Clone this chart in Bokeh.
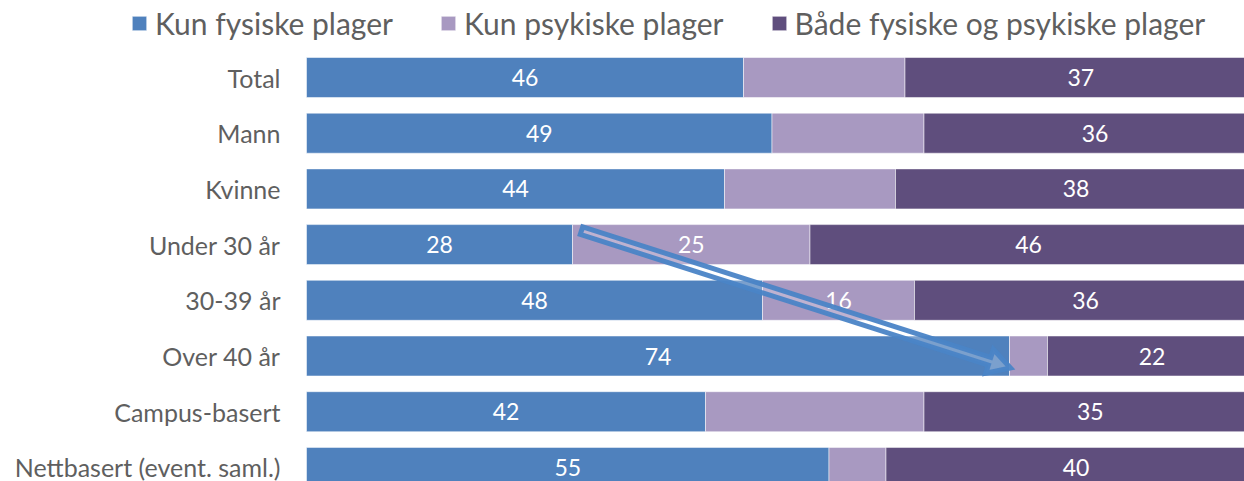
from bokeh.plotting import figure
from bokeh.models import Range1d, ColumnDataSource, Legend, LegendItem
from bokeh.core.properties import value
from bokeh.embed import file_html
from bokeh.resources import INLINE
import math

# ---------------- data ----------------
categories = ["Total", "Mann", "Kvinne", "Under 30 år", "30-39 år",
              "Over 40 år", "Campus-basert", "Nettbasert (event. saml.)"]
series_names = ["Kun fysiske plager", "Kun psykiske plager",
                "Både fysiske og psykiske plager"]
kun_fysiske = [46, 49, 44, 28, 48, 74, 42, 55]
kun_psykiske = [17, 16, 18, 25, 16, 4, 23, 6]
begge = [37, 36, 38, 46, 36, 22, 35, 40]
show_psykiske_label = [False, False, False, True, True, False, False, False]

# ---------------- style / layout ----------------
colors = ["#4F81BD", "#A899C1", "#5F4E7D"]
TEXT_GREY = "#5F5F5F"
FONT = "Lato"
W, H = 1244, 481
PX = 9.5          # pixels per percentage unit
ROW = 55.7        # pixels per category row
ZERO_PX = 306     # x position of value 0 inside figure
FIRST_ROW_PX = 77 # y position of first row centre inside figure

p = figure(width=W, height=H, output_backend="svg", toolbar_location=None,
           x_range=Range1d(-ZERO_PX / PX, (W - ZERO_PX) / PX),
           y_range=Range1d(-(H - FIRST_ROW_PX) / ROW, FIRST_ROW_PX / ROW),
           x_axis_location=None, y_axis_location=None,
           min_border=0, outline_line_color=None)
p.xgrid.visible = False
p.ygrid.visible = False

ys = [-i for i in range(len(categories))]
series = [kun_fysiske, kun_psykiske, begge]
left = [0] * len(categories)
renderers = []
label_x, label_y, label_t = [], [], []
for k, vals in enumerate(series):
    right = [l + v for l, v in zip(left, vals)]
    src = ColumnDataSource(dict(y=ys, left=left, right=right))
    r = p.hbar(y="y", left="left", right="right", height=0.718, source=src,
               fill_color=colors[k], line_color="white", line_alpha=0.5, line_width=1)
    renderers.append(r)
    for i, (l, rr, v) in enumerate(zip(left, right, vals)):
        if k == 1 and not show_psykiske_label[i]:
            continue
        label_x.append((l + rr) / 2)
        label_y.append(ys[i])
        label_t.append(str(v))
    left = right

p.text(x=label_x, y=label_y, text=label_t, text_color="white",
       text_font=value(FONT), text_font_size="23px",
       text_align="center", text_baseline="middle")

# category labels
p.text(x=[0] * len(categories), y=ys, text=categories, x_offset=-26,
       text_color=TEXT_GREY, text_font=value(FONT), text_font_size="25px",
       text_align="right", text_baseline="middle")

# ---------------- arrow annotation (Under 30 -> Over 40) ----------------
tx, ty = kun_fysiske[3] * PX + 9, ys[3] * ROW + 14
hx, hy = kun_fysiske[5] * PX + 1, ys[5] * ROW - 12
dx, dy = hx - tx, hy - ty
L = math.hypot(dx, dy)
ux, uy = dx / L, dy / L
nx, ny = -uy, ux
sw, hw, hl = 4.0, 12.5, 22
bx, by = hx - ux * hl, hy - uy * hl
pts = [(tx + nx * sw, ty + ny * sw), (bx + nx * sw, by + ny * sw),
       (bx + nx * hw, by + ny * hw), (hx, hy),
       (bx - nx * hw, by - ny * hw), (bx - nx * sw, by - ny * sw),
       (tx - nx * sw, ty - ny * sw)]
p.patch([a / PX for a, b in pts], [b / ROW for a, b in pts],
        fill_color="white", fill_alpha=0.25, line_color="#4A84C6",
        line_alpha=0.95, line_width=5, line_join="miter")

# ---------------- legend ----------------
legend = Legend(items=[LegendItem(label=n, renderers=[r]) for n, r in zip(series_names, renderers)],
                orientation="horizontal", location=(130, 440),
                glyph_width=18, glyph_height=18, label_standoff=7, spacing=46,
                label_text_font=FONT, label_text_font_size="30px",
                label_text_color=TEXT_GREY, padding=0, margin=0,
                border_line_color=None, background_fill_alpha=0)
p.add_layout(legend)

open("out.html", "w").write(file_html(p, INLINE))
